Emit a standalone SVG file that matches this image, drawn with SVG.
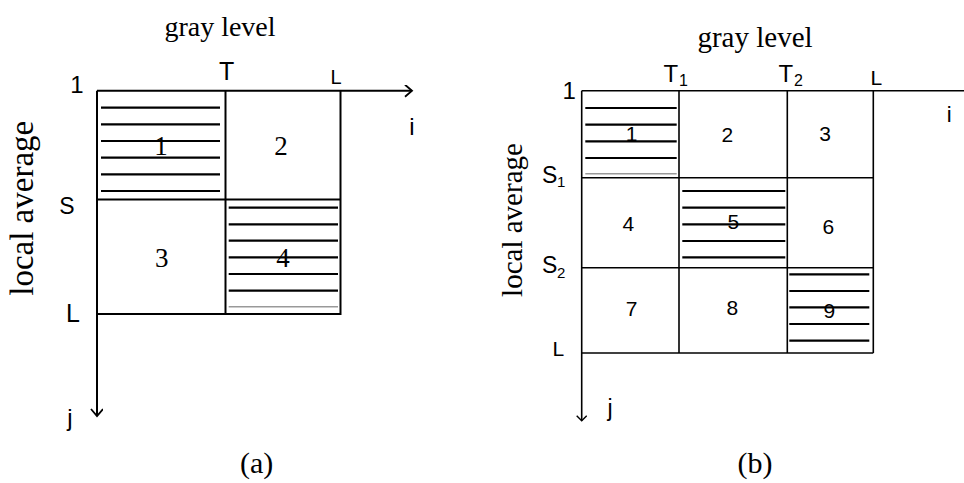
<svg xmlns="http://www.w3.org/2000/svg" width="964" height="483" viewBox="0 0 964 483">
<style>
.bg{fill:#fff}
.ln{stroke:#000;stroke-width:2;fill:none}
.lnb{stroke:#000;stroke-width:1.6;fill:none}
.h{stroke:#000;stroke-width:2.2}
.hg{stroke:#999;stroke-width:1.6}
.serif{font-family:"Liberation Serif","Times New Roman",serif;fill:#000}
.sans{font-family:"Liberation Sans",Arial,sans-serif;fill:#000}
.c{text-anchor:middle}
</style>
<defs>
<marker id="chev" markerWidth="16" markerHeight="16" refX="8" refY="6" orient="auto" markerUnits="userSpaceOnUse">
<path d="M1,0 L8,6 L1,12" fill="none" stroke="#000" stroke-width="1.8"/>
</marker>
<marker id="chevs" markerWidth="14" markerHeight="14" refX="6" refY="5" orient="auto" markerUnits="userSpaceOnUse">
<path d="M1,0 L6,5 L1,10" fill="none" stroke="#000" stroke-width="1.4"/>
</marker>
</defs>
<rect class="bg" x="0" y="0" width="964" height="483"/>

<!-- Panel (a) -->
<g id="panel-a">
<g id="a-connectors">
<line class="ln" x1="97" y1="90.7" x2="412" y2="90.7" marker-end="url(#chev)"/>
<line class="ln" x1="97" y1="90.7" x2="97" y2="416" marker-end="url(#chev)"/>
<line class="ln" x1="225.5" y1="90.7" x2="225.5" y2="315"/>
<line class="ln" x1="340.5" y1="90.7" x2="340.5" y2="315"/>
<line class="ln" x1="97" y1="199.5" x2="340.5" y2="199.5"/>
<line class="ln" x1="97" y1="314" x2="340.5" y2="314"/>
</g>
<g id="a-cell1">
<line class="h" x1="101" y1="107.7" x2="220" y2="107.7"/>
<line class="h" x1="101" y1="124.3" x2="220" y2="124.3"/>
<line class="h" x1="101" y1="141" x2="220" y2="141"/>
<line class="h" x1="101" y1="157.7" x2="220" y2="157.7"/>
<line class="h" x1="101" y1="174.3" x2="220" y2="174.3"/>
<line class="h" x1="101" y1="191" x2="220" y2="191"/>
<text class="serif c" x="161" y="155" font-size="27">1</text>
</g>
<g id="a-cell2"><text class="serif c" x="281" y="155" font-size="27">2</text></g>
<g id="a-cell3"><text class="serif c" x="161.7" y="266.7" font-size="27">3</text></g>
<g id="a-cell4">
<line class="h" x1="228.7" y1="207.7" x2="338" y2="207.7"/>
<line class="h" x1="228.7" y1="224.3" x2="338" y2="224.3"/>
<line class="h" x1="228.7" y1="240.7" x2="338" y2="240.7"/>
<line class="h" x1="228.7" y1="257.3" x2="338" y2="257.3"/>
<line class="h" x1="228.7" y1="274" x2="338" y2="274"/>
<line class="h" x1="228.7" y1="290.7" x2="338" y2="290.7"/>
<line class="hg" x1="228.7" y1="306.7" x2="338" y2="306.7"/>
<text class="serif c" x="283" y="266.7" font-size="27">4</text>
</g>
<g id="a-labels">
<text class="serif c" x="220" y="36" font-size="28">gray level</text>
<text class="sans c" x="226.7" y="80" font-size="25">T</text>
<text class="sans c" x="336" y="83.5" font-size="20">L</text>
<text class="sans c" x="77" y="92.7" font-size="24">1</text>
<text class="sans c" x="412" y="135" font-size="24">i</text>
<text class="sans c" x="67" y="213.5" font-size="23">S</text>
<text class="sans c" x="73" y="321.7" font-size="25">L</text>
<text class="sans c" x="70" y="426" font-size="24">j</text>
<text class="serif c" transform="translate(33.3,208.3) rotate(-90)" font-size="33">local average</text>
<text class="serif c" x="256.7" y="473" font-size="30">(a)</text>
</g>
</g>

<!-- Panel (b) -->
<g id="panel-b">
<g id="b-connectors">
<line class="lnb" x1="581.7" y1="90.7" x2="964" y2="90.7"/>
<line class="lnb" x1="581.7" y1="90.7" x2="581.7" y2="420.7" marker-end="url(#chevs)"/>
<line class="lnb" x1="679" y1="90.7" x2="679" y2="353"/>
<line class="lnb" x1="787.3" y1="90.7" x2="787.3" y2="353"/>
<line class="lnb" x1="873.3" y1="90.7" x2="873.3" y2="353"/>
<line class="lnb" x1="581.7" y1="177.7" x2="873.3" y2="177.7"/>
<line class="lnb" x1="581.7" y1="267.7" x2="873.3" y2="267.7"/>
<line class="lnb" x1="581.7" y1="353" x2="873.3" y2="353"/>
</g>
<g id="b-cell1">
<line class="h" x1="585.3" y1="108" x2="676.7" y2="108"/>
<line class="h" x1="585.3" y1="124.7" x2="676.7" y2="124.7"/>
<line class="h" x1="585.3" y1="141.3" x2="676.7" y2="141.3"/>
<line class="h" x1="585.3" y1="158" x2="676.7" y2="158"/>
<line class="hg" x1="585.3" y1="173.7" x2="676.7" y2="173.7"/>
<text class="sans c" x="631.7" y="140.5" font-size="21">1</text>
</g>
<g id="b-cell2"><text class="sans c" x="727.3" y="142" font-size="21">2</text></g>
<g id="b-cell3"><text class="sans c" x="825" y="140.5" font-size="21">3</text></g>
<g id="b-cell4"><text class="sans c" x="628.3" y="230.5" font-size="21">4</text></g>
<g id="b-cell5">
<line class="h" x1="682.3" y1="191" x2="785.3" y2="191"/>
<line class="h" x1="682.3" y1="207.7" x2="785.3" y2="207.7"/>
<line class="h" x1="682.3" y1="224.3" x2="785.3" y2="224.3"/>
<line class="h" x1="682.3" y1="241" x2="785.3" y2="241"/>
<line class="h" x1="682.3" y1="257.3" x2="785.3" y2="257.3"/>
<text class="sans c" x="733.3" y="228.8" font-size="21">5</text>
</g>
<g id="b-cell6"><text class="sans c" x="828.3" y="233.8" font-size="21">6</text></g>
<g id="b-cell7"><text class="sans c" x="631.7" y="315.5" font-size="21">7</text></g>
<g id="b-cell8"><text class="sans c" x="732.3" y="314.5" font-size="21">8</text></g>
<g id="b-cell9">
<line class="h" x1="789.3" y1="274.3" x2="869.3" y2="274.3"/>
<line class="h" x1="789.3" y1="291" x2="869.3" y2="291"/>
<line class="h" x1="789.3" y1="307.3" x2="869.3" y2="307.3"/>
<line class="h" x1="789.3" y1="324" x2="869.3" y2="324"/>
<line class="h" x1="789.3" y1="340.7" x2="869.3" y2="340.7"/>
<text class="sans c" x="829.3" y="317.8" font-size="21">9</text>
</g>
<g id="b-labels">
<text class="serif c" x="755" y="46.7" font-size="29">gray level</text>
<text class="sans" x="663.5" y="82" font-size="24">T</text>
<text class="sans" x="679" y="85.5" font-size="16">1</text>
<text class="sans" x="778.5" y="82" font-size="24">T</text>
<text class="sans" x="794" y="85.5" font-size="16">2</text>
<text class="sans" x="870.5" y="85" font-size="21">L</text>
<text class="sans c" x="569.3" y="99.3" font-size="24">1</text>
<text class="sans c" x="949.3" y="121.7" font-size="22">i</text>
<text class="sans" x="542" y="183.3" font-size="23">S</text>
<text class="sans" x="557" y="187" font-size="15">1</text>
<text class="sans" x="542" y="273.3" font-size="23">S</text>
<text class="sans" x="557" y="277.5" font-size="15">2</text>
<text class="sans" x="552.5" y="356" font-size="21">L</text>
<text class="sans c" x="610" y="415.5" font-size="23">j</text>
<text class="serif c" transform="translate(521.7,220) rotate(-90)" font-size="29">local average</text>
<text class="serif c" x="755" y="473.3" font-size="30">(b)</text>
</g>
</g>
</svg>
